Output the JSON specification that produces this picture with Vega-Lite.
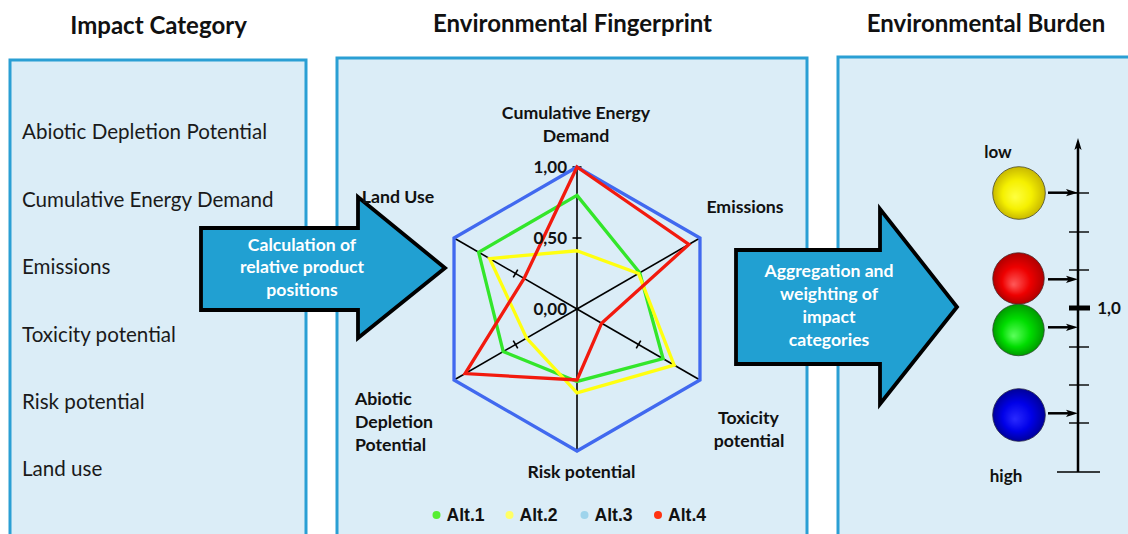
{
"$schema": "https://vega.github.io/schema/vega-lite/v6.json",
"width": 1128, "height": 534,
"autosize": {"type": "fit", "contains": "padding"},
"padding": 0,
"background": "white",
"config": {"view": {"stroke": null}},
"resolve": {"scale": {"color": "independent"}},
"datasets": {
 "boxes": [
  {"panel": "Impact Category", "x": 10, "x2": 306, "y": 60, "y2": 560},
  {"panel": "Environmental Fingerprint", "x": 337, "x2": 807, "y": 58, "y2": 560},
  {"panel": "Environmental Burden", "x": 838, "x2": 1160, "y": 57, "y2": 560}
 ],
 "titles": [
  {"text": "Impact Category", "x": 158.5, "y": 34},
  {"text": "Environmental Fingerprint", "x": 572.5, "y": 32},
  {"text": "Environmental Burden", "x": 986, "y": 32}
 ],
 "categories": [
  {"text": "Abiotic Depletion Potential", "x": 22, "y": 139},
  {"text": "Cumulative Energy Demand", "x": 22, "y": 206.5},
  {"text": "Emissions", "x": 22, "y": 274},
  {"text": "Toxicity potential", "x": 22, "y": 341.5},
  {"text": "Risk potential", "x": 22, "y": 409},
  {"text": "Land use", "x": 22, "y": 476}
 ],
 "arrows": [
  {"shape": "a1", "i": 0, "x": 201, "y": 228}, {"shape": "a1", "i": 1, "x": 358, "y": 228},
  {"shape": "a1", "i": 2, "x": 358, "y": 197}, {"shape": "a1", "i": 3, "x": 445, "y": 268},
  {"shape": "a1", "i": 4, "x": 358, "y": 338}, {"shape": "a1", "i": 5, "x": 358, "y": 310},
  {"shape": "a1", "i": 6, "x": 201, "y": 310},
  {"shape": "a2", "i": 0, "x": 736, "y": 250}, {"shape": "a2", "i": 1, "x": 880, "y": 250},
  {"shape": "a2", "i": 2, "x": 880, "y": 209}, {"shape": "a2", "i": 3, "x": 957, "y": 307},
  {"shape": "a2", "i": 4, "x": 880, "y": 404}, {"shape": "a2", "i": 5, "x": 880, "y": 364},
  {"shape": "a2", "i": 6, "x": 736, "y": 364}
 ],
 "arrowText": [
  {"text": "Calculation  of", "x": 302, "y": 250.5},
  {"text": "relative product", "x": 302, "y": 273.3},
  {"text": "positions", "x": 302, "y": 296},
  {"text": "Aggregation and", "x": 829, "y": 277.3},
  {"text": "weighting of", "x": 829, "y": 300},
  {"text": "impact", "x": 829, "y": 322.7},
  {"text": "categories", "x": 829, "y": 345.6}
 ],
 "axes": [
  {"axis": "Cumulative Energy Demand", "k": 0},
  {"axis": "Emissions", "k": 1},
  {"axis": "Toxicity potential", "k": 2},
  {"axis": "Risk potential", "k": 3},
  {"axis": "Abiotic Depletion Potential", "k": 4},
  {"axis": "Land Use", "k": 5}
 ],
 "ticks": [
  {"k": 0, "v": 0.5}, {"k": 1, "v": 0.5}, {"k": 2, "v": 0.5},
  {"k": 3, "v": 0.5}, {"k": 4, "v": 0.5}, {"k": 5, "v": 0.5}, {"k": 0, "v": 1}
 ],
 "scaleLabels": [
  {"text": "1,00", "v": 1}, {"text": "0,50", "v": 0.5}, {"text": "0,00", "v": 0}
 ],
 "radar": [
  {"alt": "Alt.3", "k": 0, "value": 1}, {"alt": "Alt.3", "k": 1, "value": 1},
  {"alt": "Alt.3", "k": 2, "value": 1}, {"alt": "Alt.3", "k": 3, "value": 1},
  {"alt": "Alt.3", "k": 4, "value": 1}, {"alt": "Alt.3", "k": 5, "value": 1},
  {"alt": "Alt.1", "k": 0, "value": 0.80}, {"alt": "Alt.1", "k": 1, "value": 0.51},
  {"alt": "Alt.1", "k": 2, "value": 0.70}, {"alt": "Alt.1", "k": 3, "value": 0.51},
  {"alt": "Alt.1", "k": 4, "value": 0.60}, {"alt": "Alt.1", "k": 5, "value": 0.80},
  {"alt": "Alt.2", "k": 0, "value": 0.41}, {"alt": "Alt.2", "k": 1, "value": 0.50},
  {"alt": "Alt.2", "k": 2, "value": 0.79}, {"alt": "Alt.2", "k": 3, "value": 0.59},
  {"alt": "Alt.2", "k": 4, "value": 0.41}, {"alt": "Alt.2", "k": 5, "value": 0.71},
  {"alt": "Alt.4", "k": 0, "value": 1.00}, {"alt": "Alt.4", "k": 1, "value": 0.91},
  {"alt": "Alt.4", "k": 2, "value": 0.20}, {"alt": "Alt.4", "k": 3, "value": 0.50},
  {"alt": "Alt.4", "k": 4, "value": 0.91}, {"alt": "Alt.4", "k": 5, "value": 0.43}
 ],
 "radarLabels": [
  {"text": "Cumulative Energy", "x": 576, "y": 119},
  {"text": "Demand", "x": 576, "y": 141.5},
  {"text": "Emissions", "x": 745, "y": 213},
  {"text": "Toxicity", "x": 748.5, "y": 424},
  {"text": "potential", "x": 749, "y": 446.5},
  {"text": "Risk potential", "x": 581.5, "y": 477.5},
  {"text": "Land Use", "x": 398, "y": 203}
 ],
 "radarLabelsLeft": [
  {"text": "Abiotic", "x": 355, "y": 405},
  {"text": "Depletion", "x": 355, "y": 428},
  {"text": "Potential", "x": 355, "y": 451}
 ],
 "legend": [
  {"alt": "Alt.1", "x": 436.5, "y": 515},
  {"alt": "Alt.2", "x": 509.5, "y": 515},
  {"alt": "Alt.3", "x": 584.5, "y": 515},
  {"alt": "Alt.4", "x": 658, "y": 515}
 ],
 "burden": [
  {"alt": "Alt.2", "x": 1019, "y": 193, "ay": 192.7},
  {"alt": "Alt.4", "x": 1018.5, "y": 278.5, "ay": 279.3},
  {"alt": "Alt.1", "x": 1018.5, "y": 330, "ay": 327.3},
  {"alt": "Alt.3", "x": 1019, "y": 415, "ay": 413.3}
 ],
 "burdenTicks": [
  {"y": 193}, {"y": 232}, {"y": 270}, {"y": 347}, {"y": 385}, {"y": 423}
 ],
 "burdenText": [
  {"text": "low", "x": 998, "y": 158},
  {"text": "high", "x": 1006, "y": 481.5},
  {"text": "1,0", "x": 1109, "y": 313.5}
 ]
},
"encoding": {
 "x": {"field": "x", "type": "quantitative", "scale": {"domain": [0, 1128], "nice": false, "zero": false}, "axis": null},
 "y": {"field": "y", "type": "quantitative", "scale": {"domain": [0, 534], "nice": false, "zero": false, "reverse": true}, "axis": null}
},
"layer": [
 {"data": {"name": "boxes"},
  "mark": {"type": "rect", "fill": "#dbedf7", "stroke": "#2a9fd4", "strokeWidth": 3, "clip": true},
  "encoding": {"x2": {"field": "x2"}, "y2": {"field": "y2"}}},
 {"data": {"name": "titles"},
  "mark": {"type": "text", "font": "Lato", "fontWeight": "bold", "fontSize": 24, "align": "center", "baseline": "alphabetic", "color": "#111111"},
  "encoding": {"text": {"field": "text"}}},
 {"data": {"name": "categories"},
  "mark": {"type": "text", "font": "Lato", "fontSize": 20.6, "align": "left", "baseline": "alphabetic", "color": "#1a1a1a"},
  "encoding": {"text": {"field": "text"}}},
 {"data": {"name": "arrows"},
  "mark": {"type": "line", "interpolate": "linear-closed", "fill": "#21a0d2", "stroke": "#000000", "strokeWidth": 3.8, "strokeJoin": "miter"},
  "encoding": {"detail": {"field": "shape"}, "order": {"field": "i"}}},
 {"data": {"name": "arrowText"},
  "mark": {"type": "text", "font": "Lato", "fontWeight": "bold", "fontSize": 17.6, "align": "center", "baseline": "alphabetic", "color": "#ffffff"},
  "encoding": {"text": {"field": "text"}}},
 {"data": {"name": "axes"},
  "transform": [
   {"calculate": "577", "as": "x"}, {"calculate": "309", "as": "y"},
   {"calculate": "577 + 142 * sin(datum.k * PI / 3)", "as": "x2"},
   {"calculate": "309 - 142 * cos(datum.k * PI / 3)", "as": "y2"}
  ],
  "mark": {"type": "rule", "color": "#000000", "strokeWidth": 1.6},
  "encoding": {"x2": {"field": "x2"}, "y2": {"field": "y2"}}},
 {"data": {"name": "ticks"},
  "transform": [
   {"calculate": "577 + datum.v * 142 * sin(datum.k * PI / 3)", "as": "px"},
   {"calculate": "309 - datum.v * 142 * cos(datum.k * PI / 3)", "as": "py"},
   {"calculate": "datum.px - 4.5 * cos(datum.k * PI / 3)", "as": "x"},
   {"calculate": "datum.px + 4.5 * cos(datum.k * PI / 3)", "as": "x2"},
   {"calculate": "datum.py - 4.5 * sin(datum.k * PI / 3)", "as": "y"},
   {"calculate": "datum.py + 4.5 * sin(datum.k * PI / 3)", "as": "y2"}
  ],
  "mark": {"type": "rule", "color": "#000000", "strokeWidth": 1.6},
  "encoding": {"x2": {"field": "x2"}, "y2": {"field": "y2"}}},
 {"data": {"name": "radar"},
  "transform": [
   {"filter": "datum.alt == 'Alt.3'"},
   {"calculate": "577 + datum.value * 142 * sin(datum.k * PI / 3)", "as": "x"},
   {"calculate": "309 - datum.value * 142 * cos(datum.k * PI / 3)", "as": "y"}
  ],
  "mark": {"type": "line", "interpolate": "linear-closed", "color": "#4169ef", "strokeWidth": 3.3},
  "encoding": {"order": {"field": "k"}}},
 {"data": {"name": "radar"},
  "transform": [
   {"filter": "datum.alt != 'Alt.3'"},
   {"calculate": "577 + datum.value * 142 * sin(datum.k * PI / 3)", "as": "x"},
   {"calculate": "309 - datum.value * 142 * cos(datum.k * PI / 3)", "as": "y"}
  ],
  "mark": {"type": "line", "interpolate": "linear-closed", "strokeWidth": 3.3},
  "encoding": {
   "order": {"field": "k"},
   "color": {"field": "alt", "type": "nominal", "scale": {"domain": ["Alt.1", "Alt.2", "Alt.4"], "range": ["#33e62a", "#ffff10", "#f21a0e"]}, "legend": null}
  }},
 {"data": {"name": "radarLabels"},
  "mark": {"type": "text", "font": "Lato", "fontWeight": "bold", "fontSize": 17.7, "align": "center", "baseline": "alphabetic", "color": "#111111"},
  "encoding": {"text": {"field": "text"}}},
 {"data": {"name": "radarLabelsLeft"},
  "mark": {"type": "text", "font": "Lato", "fontWeight": "bold", "fontSize": 17.7, "align": "left", "baseline": "alphabetic", "color": "#111111"},
  "encoding": {"text": {"field": "text"}}},
 {"data": {"name": "scaleLabels"},
  "transform": [
   {"calculate": "567", "as": "x"},
   {"calculate": "309 - datum.v * 142 + 6", "as": "y"}
  ],
  "mark": {"type": "text", "font": "Lato", "fontWeight": "bold", "fontSize": 17, "align": "right", "baseline": "alphabetic", "color": "#111111"},
  "encoding": {"text": {"field": "text"}}},
 {"data": {"name": "legend"},
  "mark": {"type": "point", "shape": "circle", "filled": true, "opacity": 1, "size": 64},
  "encoding": {
   "color": {"field": "alt", "type": "nominal", "scale": {"domain": ["Alt.1", "Alt.2", "Alt.3", "Alt.4"], "range": ["#55ee33", "#ffff66", "#9fd4ec", "#ff3311"]}, "legend": null}
  }},
 {"data": {"name": "legend"},
  "transform": [{"calculate": "datum.x + 10", "as": "x"}, {"calculate": "datum.y + 6", "as": "y"}],
  "mark": {"type": "text", "font": "Liberation Sans", "fontWeight": "bold", "fontSize": 17.6, "align": "left", "baseline": "alphabetic", "color": "#111111"},
  "encoding": {"text": {"field": "alt"}}},
 {"data": {"values": [{"x": 1078, "y": 472, "x2": 1078, "y2": 146}]},
  "mark": {"type": "rule", "color": "#000000", "strokeWidth": 2.5},
  "encoding": {"x2": {"field": "x2"}, "y2": {"field": "y2"}}},
 {"data": {"values": [{"x": 1057, "y": 472, "x2": 1100, "y2": 472}]},
  "mark": {"type": "rule", "color": "#000000", "strokeWidth": 1.6},
  "encoding": {"x2": {"field": "x2"}, "y2": {"field": "y2"}}},
 {"data": {"values": [{"x": 1078, "y": 144}]},
  "mark": {"type": "point", "shape": "M-0.6,1L0,-1L0.6,1L0,0.55Z", "filled": true, "opacity": 1, "color": "#000000", "size": 144}},
 {"data": {"name": "burdenTicks"},
  "transform": [{"calculate": "1069", "as": "x"}, {"calculate": "1089", "as": "x2"}],
  "mark": {"type": "rule", "color": "#000000", "strokeWidth": 1.4},
  "encoding": {"x2": {"field": "x2"}}},
 {"data": {"values": [{"x": 1069, "x2": 1090, "y": 308}]},
  "mark": {"type": "rule", "color": "#000000", "strokeWidth": 5},
  "encoding": {"x2": {"field": "x2"}}},
 {"data": {"name": "burden"},
  "transform": [{"calculate": "1048", "as": "x"}, {"calculate": "1072", "as": "x2"}, {"calculate": "datum.ay", "as": "y"}],
  "mark": {"type": "rule", "color": "#000000", "strokeWidth": 2.5},
  "encoding": {"x2": {"field": "x2"}}},
 {"data": {"name": "burden"},
  "transform": [{"calculate": "1072", "as": "x"}, {"calculate": "datum.ay", "as": "y"}],
  "mark": {"type": "point", "shape": "M-1,-0.6L1,0L-1,0.6L-0.55,0Z", "filled": true, "opacity": 1, "color": "#000000", "size": 144}},
 {"data": {"name": "burden"},
  "transform": [{"filter": "datum.alt == 'Alt.2'"}],
  "mark": {"type": "point", "shape": "circle", "filled": true, "opacity": 1, "size": 2770, "stroke": "#4a4a2a", "strokeWidth": 0.8,
   "fill": {"gradient": "radial", "x1": 0.42, "y1": 0.58, "r1": 0, "x2": 0.5, "y2": 0.5, "r2": 0.5,
    "stops": [{"offset": 0, "color": "#ffff40"}, {"offset": 0.55, "color": "#f5f000"}, {"offset": 1, "color": "#c8b800"}]}}},
 {"data": {"name": "burden"},
  "transform": [{"filter": "datum.alt == 'Alt.4'"}],
  "mark": {"type": "point", "shape": "circle", "filled": true, "opacity": 1, "size": 2650, "stroke": "#4a2a2a", "strokeWidth": 0.8,
   "fill": {"gradient": "radial", "x1": 0.4, "y1": 0.62, "r1": 0, "x2": 0.5, "y2": 0.5, "r2": 0.5,
    "stops": [{"offset": 0, "color": "#ff5a5a"}, {"offset": 0.55, "color": "#ee0000"}, {"offset": 1, "color": "#b00000"}]}}},
 {"data": {"name": "burden"},
  "transform": [{"filter": "datum.alt == 'Alt.1'"}],
  "mark": {"type": "point", "shape": "circle", "filled": true, "opacity": 1, "size": 2650, "stroke": "#2a4a2a", "strokeWidth": 0.8,
   "fill": {"gradient": "radial", "x1": 0.4, "y1": 0.62, "r1": 0, "x2": 0.5, "y2": 0.5, "r2": 0.5,
    "stops": [{"offset": 0, "color": "#5cff5c"}, {"offset": 0.55, "color": "#00dd00"}, {"offset": 1, "color": "#009a00"}]}}},
 {"data": {"name": "burden"},
  "transform": [{"filter": "datum.alt == 'Alt.3'"}],
  "mark": {"type": "point", "shape": "circle", "filled": true, "opacity": 1, "size": 2770, "stroke": "#2a2a4a", "strokeWidth": 0.8,
   "fill": {"gradient": "radial", "x1": 0.42, "y1": 0.58, "r1": 0, "x2": 0.5, "y2": 0.5, "r2": 0.5,
    "stops": [{"offset": 0, "color": "#2a2aff"}, {"offset": 0.55, "color": "#0000e8"}, {"offset": 1, "color": "#00009a"}]}}},
 {"data": {"name": "burdenText"},
  "mark": {"type": "text", "font": "Lato", "fontWeight": "bold", "fontSize": 17, "align": "center", "baseline": "alphabetic", "color": "#111111"},
  "encoding": {"text": {"field": "text"}}}
]
}
